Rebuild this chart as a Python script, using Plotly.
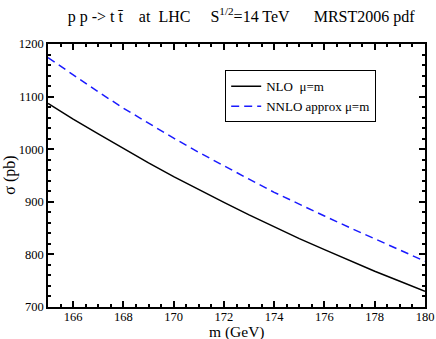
import plotly.graph_objects as go

# top mass (GeV) and cross sections (pb)
mass = [165, 166, 167, 168, 169, 170, 171, 172, 173, 174, 175, 176, 177, 178, 179, 180]
sigma_nlo = [1087, 1057, 1029, 1001, 974, 948, 923, 899, 875, 852, 830, 809, 788, 768, 749, 730]
sigma_nnlo = [1174, 1141, 1109, 1078, 1049, 1021, 994, 968, 943, 918, 895, 873, 851, 830, 808, 787]

FONT = "Liberation Serif"
SP = "\u00a0"

fig = go.Figure()
fig.add_trace(go.Scatter(
    x=mass, y=sigma_nlo, mode="lines", name="NLO" + SP * 2 + "\u03bc=m",
    line=dict(color="black", width=1.5),
))
fig.add_trace(go.Scatter(
    x=mass, y=sigma_nnlo, mode="lines", name="NNLO approx \u03bc=m",
    line=dict(color="#1a1aff", width=1.5, dash="8px,5px"),
))

axis_common = dict(
    showgrid=False, zeroline=False, showline=True, linecolor="black", linewidth=1.5,
    mirror="allticks", ticks="inside", ticklen=6, tickwidth=1.5, tickcolor="black",
    tickfont=dict(family=FONT, size=12.5, color="black"), automargin=False,
)

fig.update_xaxes(
    range=[165, 180], tick0=166, dtick=2, ticklabelstandoff=-3,
    minor=dict(ticks="inside", ticklen=3, dtick=0.5, tickcolor="black", tickwidth=1.5),
    **axis_common,
)
fig.update_yaxes(
    range=[700, 1200], tick0=700, dtick=100,
    minor=dict(ticks="inside", ticklen=3, dtick=20, tickcolor="black", tickwidth=1.5),
    **axis_common,
)

# axis titles placed as annotations for exact positioning
fig.add_annotation(text="m (GeV)", xref="paper", yref="paper", x=0.501, y=-0.096,
                   xanchor="center", yanchor="middle", showarrow=False,
                   font=dict(family=FONT, size=15.5, color="black"))
fig.add_annotation(text="\u03c3 (pb)", xref="paper", yref="paper", x=-0.103, y=0.5,
                   xanchor="center", yanchor="middle", showarrow=False, textangle=-90,
                   font=dict(family=FONT, size=16, color="black"))

title_text = ("p p -> t t\u0304" + SP * 4 + "at" + SP * 2 + "LHC" + SP * 5
              + "S<sup>1/2</sup>=14 TeV" + SP * 6 + "MRST2006 pdf")

fig.update_layout(
    width=436, height=339,
    margin=dict(l=48, r=11, t=44, b=32),
    paper_bgcolor="white", plot_bgcolor="white",
    title=dict(
        text=title_text,
        font=dict(family=FONT, size=16, color="black"),
        x=0.553, xanchor="center", y=0.953, yanchor="middle",
    ),
    legend=dict(
        x=0.47, y=0.9, xanchor="left", yanchor="top",
        bgcolor="white", bordercolor="black", borderwidth=1,
        font=dict(family=FONT, size=13, color="black"),
        tracegroupgap=0, itemwidth=30,
    ),
    showlegend=True,
)

# drop the default 8px page margin so the figure fills the window exactly
fig.write_html("out.html", config={"displayModeBar": False},
               post_script="document.body.style.margin='0';")
